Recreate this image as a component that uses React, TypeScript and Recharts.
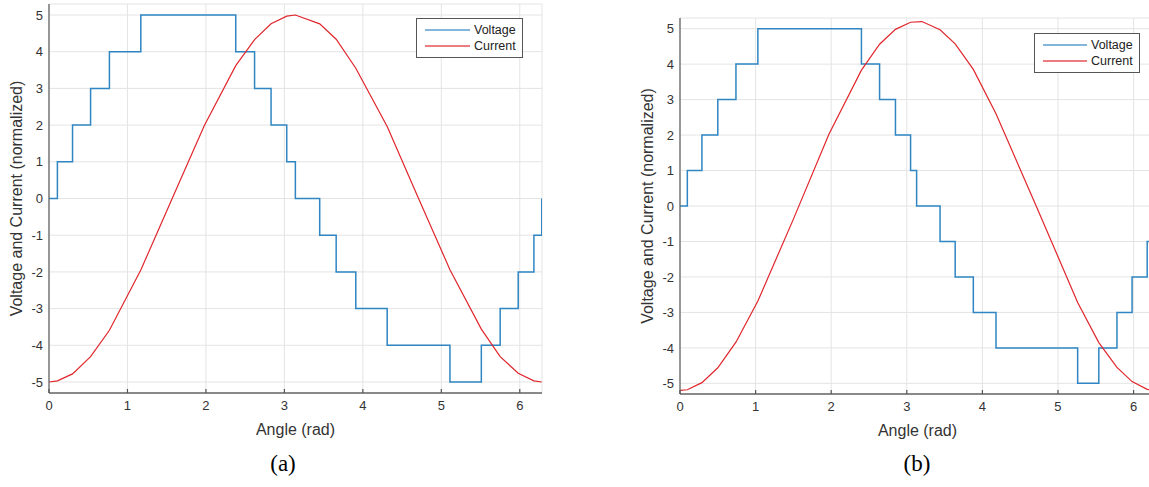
import React from "react";
import { CartesianGrid, Legend, Line, LineChart, XAxis, YAxis } from "recharts";

const angleTicks = [0, 1, 2, 3, 4, 5, 6];
const levelTicks = [-5, -4, -3, -2, -1, 0, 1, 2, 3, 4, 5];
const seriesNames = ["Voltage", "Current"];

// (a) voltage switching angles and levels
const stepAnglesA = [0, 0.107, 0.3, 0.53, 0.77, 1.17, 2.38, 2.62, 2.83, 3.03, 3.14, 3.45, 3.66, 3.91, 4.31, 5.11, 5.51, 5.75, 5.98, 6.18, 6.28];
const stepLevelsA = [0, 1, 2, 3, 4, 5, 4, 3, 2, 1, 0, -1, -2, -3, -4, -5, -4, -3, -2, -1, 0];
// (a) current samples
const currentAnglesA = [0, 0.107, 0.3, 0.53, 0.77, 1.17, 1.57, 1.98, 2.38, 2.62, 2.83, 3.03, 3.14, 3.45, 3.66, 3.91, 4.31, 4.71, 5.11, 5.51, 5.75, 5.98, 6.18, 6.28];
const currentValuesA = [-5, -4.97, -4.78, -4.31, -3.59, -1.95, 0, 1.99, 3.62, 4.33, 4.76, 4.97, 5, 4.76, 4.34, 3.55, 1.96, 0, -1.94, -3.56, -4.31, -4.76, -4.97, -5];

// (b) voltage switching angles and levels
const stepAnglesB = [0, 0.097, 0.29, 0.5, 0.74, 1.03, 2.4, 2.64, 2.85, 3.05, 3.13, 3.44, 3.64, 3.88, 4.18, 5.26, 5.54, 5.78, 5.98, 6.18, 6.28];
const stepLevelsB = [0, 1, 2, 3, 4, 5, 4, 3, 2, 1, 0, -1, -2, -3, -4, -5, -4, -3, -2, -1, 0];
// (b) current samples
const currentAnglesB = [0, 0.097, 0.29, 0.5, 0.74, 1.03, 1.5, 1.97, 2.4, 2.64, 2.85, 3.05, 3.2, 3.44, 3.64, 3.88, 4.18, 4.72, 5.26, 5.54, 5.78, 5.98, 6.18, 6.28];
const currentValuesB = [-5.2, -5.18, -4.98, -4.56, -3.84, -2.68, -0.37, 2.02, 3.83, 4.56, 4.98, 5.18, 5.2, 4.97, 4.57, 3.85, 2.6, -0.04, -2.72, -3.85, -4.55, -4.95, -5.17, -5.2];

const BLUE = "#2f86c2";
const RED = "#e0262c";
const seriesColors = [BLUE, RED];
const FONT = "'Liberation Sans', Arial, sans-serif";

const toPoints = (xs: number[], ys: number[]) => xs.map((x, i) => ({ x, y: ys[i] }));

const AngleTick = ({ x, y, payload }: any) => (
  <g>
    <line x1={ x } x2={ x } y1={ y - 8 } y2={ y - 12 } stroke="#555" strokeWidth={ 1.2 }/>
    <text x={ x } y={ y } dy="0.71em" textAnchor="middle" fontSize={ 13 } fill="#333" fontFamily={ FONT }>
      { payload.value }
    </text>
  </g>
);

const LegendBox = ({ lineLength, rowHeight }: { lineLength: number; rowHeight: number }) => (
  <div style={ {
    border: "1.5px solid #555",
    background: "#fff",
    padding: "3px 6px 3px 8px",
    fontFamily: FONT,
    fontSize: 12.5,
    color: "#222",
    lineHeight: `${ rowHeight }px`,
  } }>
    { seriesNames.map((name, i) => (
      <div key={ name } style={ { display: "flex", alignItems: "center" } }>
        <svg width={ lineLength } height={ 4 } style={ { marginRight: 4, flexShrink: 0 } }>
          <line x1={ 0 } x2={ lineLength } y1={ 2 } y2={ 2 } stroke={ seriesColors[i] } strokeWidth={ 1.5 } strokeOpacity={ 0.8 }/>
        </svg>
        { name }
      </div>
    )) }
  </div>
);

type PanelProps = {
  voltage: { x: number; y: number }[];
  current: { x: number; y: number }[];
  left: number;
  margin: { top: number; right: number; bottom: number; left: number };
  yAxisWidth: number;
  yTitleOffset: number;
  legendAt: { top: number; left: number };
  legendLine: number;
  legendRow: number;
};

const Panel = ({ voltage, current, left, margin, yAxisWidth, yTitleOffset, legendAt, legendLine, legendRow }: PanelProps) => (
  <div style={ { position: "absolute", left, top: 0 } }>
    <LineChart width={ 560 } height={ 445 } margin={ margin }>
      <CartesianGrid stroke="#e4e4e4" strokeWidth={ 1 }/>
      <XAxis
        dataKey="x"
        type="number"
        domain={ [0, 6.2832] }
        ticks={ angleTicks }
        allowDataOverflow
        height={ 46 }
        tickSize={ 0 }
        tickMargin={ 8 }
        tickLine={ false }
        tick={ <AngleTick/> }
        axisLine={ { stroke: "#666", strokeWidth: 1.3 } }
        label={ { value: "Angle (rad)", position: "insideBottom", offset: 4, fontSize: 16, fill: "#333", fontFamily: FONT } }
      />
      <YAxis
        type="number"
        domain={ [-5.3, 5.3] }
        ticks={ levelTicks }
        allowDataOverflow
        width={ yAxisWidth }
        tickSize={ 0 }
        tickMargin={ 6 }
        tickLine={ false }
        tick={ { fontSize: 13, fill: "#333", fontFamily: FONT } }
        axisLine={ { stroke: "#666", strokeWidth: 1.3 } }
        label={ {
          value: "Voltage and Current (normalized)",
          angle: -90,
          position: "insideLeft",
          offset: yTitleOffset,
          fontSize: 16,
          fill: "#333",
          fontFamily: FONT,
          style: { textAnchor: "middle" },
        } }
      />
      <Legend
        layout="vertical"
        align="center"
        verticalAlign="middle"
        wrapperStyle={ { top: legendAt.top, left: legendAt.left, width: "auto" } }
        content={ () => <LegendBox lineLength={ legendLine } rowHeight={ legendRow }/> }
      />
      <Line data={ voltage } dataKey="y" name={ seriesNames[0] } type="stepAfter" stroke={ BLUE } strokeWidth={ 1.5 } dot={ false } isAnimationActive={ false }/>
      <Line data={ current } dataKey="y" name={ seriesNames[1] } type="linear" stroke={ RED } strokeWidth={ 1.2 } dot={ false } isAnimationActive={ false }/>
    </LineChart>
  </div>
);

const Caption = ({ text, x }: { text: string; x: number }) => (
  <div style={ {
    position: "absolute",
    left: x - 30,
    width: 60,
    top: 451,
    textAlign: "center",
    fontFamily: "'Liberation Serif', 'Times New Roman', serif",
    fontSize: 23,
    color: "#000",
  } }>
    { text }
  </div>
);

export default function App() {
  return (
    <div style={ { position: "fixed", left: 0, top: 0, width: 1149, height: 487, overflow: "hidden", background: "#fff" } }>
      <Panel
        voltage={ toPoints(stepAnglesA, stepLevelsA) }
        current={ toPoints(currentAnglesA, currentValuesA) }
        left={ 0 }
        margin={ { top: 4, right: 18, bottom: 6, left: 0 } }
        yAxisWidth={ 49 }
        yTitleOffset={ 16 }
        legendAt={ { top: 18, left: 416 } }
        legendLine={ 45 }
        legendRow={ 16 }
      />
      <Panel
        voltage={ toPoints(stepAnglesB, stepLevelsB) }
        current={ toPoints(currentAnglesB, currentValuesB) }
        left={ 620 }
        margin={ { top: 18, right: 25, bottom: 5, left: 0 } }
        yAxisWidth={ 60 }
        yTitleOffset={ 27 }
        legendAt={ { top: 33, left: 414 } }
        legendLine={ 44 }
        legendRow={ 16 }
      />
      <Caption text="(a)" x={ 283 }/>
      <Caption text="(b)" x={ 917 }/>
    </div>
  );
}
